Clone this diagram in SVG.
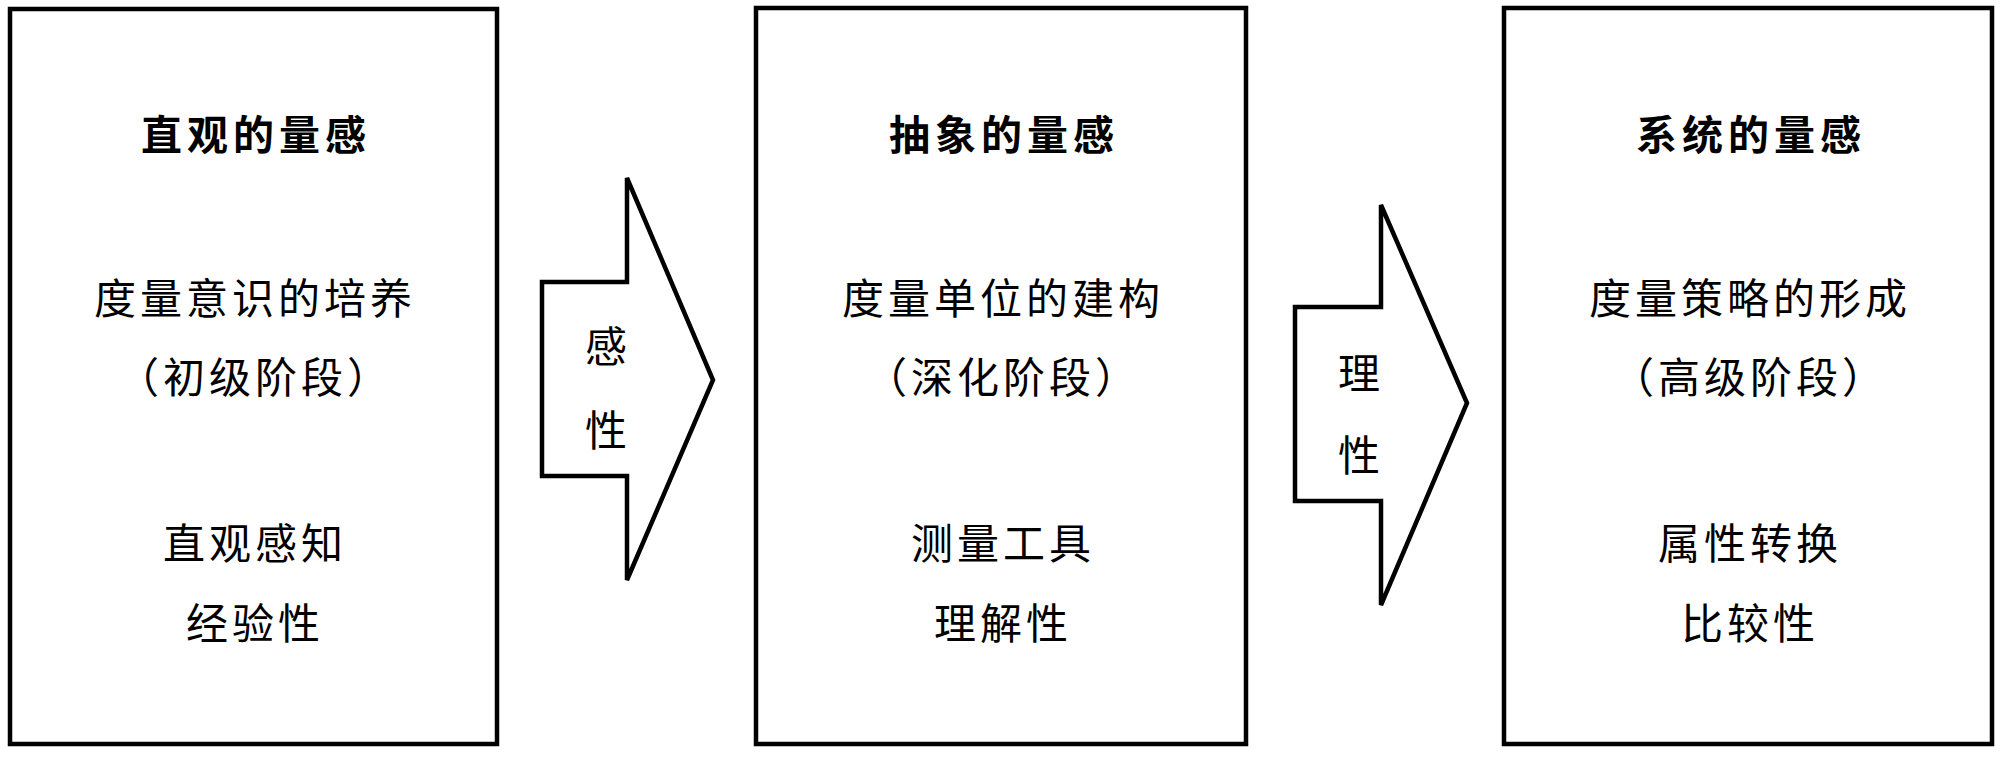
<svg xmlns="http://www.w3.org/2000/svg" width="2000" height="761" viewBox="0 0 2000 761">
<style>
.box{fill:#fff;stroke:#000;stroke-width:4.5}
.arr{fill:#fff;stroke:#000;stroke-width:4.5;stroke-linejoin:miter}
text{font-family:"Noto Sans CJK SC","Noto Sans CJK TC",sans-serif;fill:#000;text-anchor:middle;dominant-baseline:central}
.t{font-size:41px;font-weight:bold;letter-spacing:5px}
.b{font-size:42px;letter-spacing:4px}
.a{font-size:42px}
</style>
<rect width="2000" height="761" fill="#fff"/>
<g id="connectors">
<g id="arrow1">
<polygon class="arr" points="542,282 627,282 627,178 713,380 627,580 627,476 542,476"/>
<text class="a" x="606" y="343">感</text>
<text class="a" x="606" y="427">性</text>
</g>
<g id="arrow2">
<polygon class="arr" points="1295,307 1381,307 1381,205 1467,403 1381,605 1381,501 1295,501"/>
<text class="a" x="1359" y="370">理</text>
<text class="a" x="1359" y="452">性</text>
</g>
</g>
<g id="node1">
<rect class="box" x="10" y="9" width="487" height="735"/>
<text class="t" x="256" y="132">直观的量感</text>
<text class="b" x="255" y="295">度量意识的培养</text>
<text class="b" x="255" y="374">（初级阶段）</text>
<text class="b" x="255" y="540">直观感知</text>
<text class="b" x="255" y="620">经验性</text>
</g>
<g id="node2">
<rect class="box" x="756" y="8" width="490" height="736"/>
<text class="t" x="1004" y="132">抽象的量感</text>
<text class="b" x="1003" y="295">度量单位的建构</text>
<text class="b" x="1003" y="374">（深化阶段）</text>
<text class="b" x="1003" y="540">测量工具</text>
<text class="b" x="1003" y="620">理解性</text>
</g>
<g id="node3">
<rect class="box" x="1504" y="8" width="488" height="736"/>
<text class="t" x="1751" y="132">系统的量感</text>
<text class="b" x="1750" y="295">度量策略的形成</text>
<text class="b" x="1750" y="374">（高级阶段）</text>
<text class="b" x="1750" y="540">属性转换</text>
<text class="b" x="1750" y="620">比较性</text>
</g>
</svg>
